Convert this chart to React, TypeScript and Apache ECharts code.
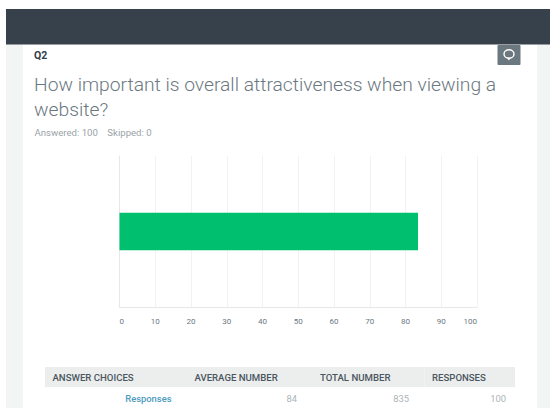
import React, { useEffect, useRef } from "react";
import * as echarts from "echarts";

const categories = ["Responses"];
const averageValues = [83.5];
const axisTicks = [0, 100];
const questionId = "Q2";
const questionLines = ["How important is overall attractiveness when viewing a", "website?"];
const answeredText = "Answered: 100    Skipped: 0";
const tableHeaders = ["ANSWER CHOICES", "AVERAGE NUMBER", "TOTAL NUMBER", "RESPONSES"];
const tableRow = ["Responses", "84", "835", "100"];

const UI_FONT = "Roboto, 'Open Sans', sans-serif";

export default function App() {
  const ref = useRef<HTMLDivElement>(null);
  useEffect(() => {
    const chart = echarts.init(ref.current!, undefined, { renderer: "svg" });
    const headerX = [52.5, 194.5, 320, 432];
    const cellRight = [171.5, 297, 409, 506];
    const cellX = [45, 187, 312, 424.5, 515];
    chart.setOption({
      animation: false,
      backgroundColor: "#ffffff",
      grid: { left: 119.5, right: 73, top: 156, bottom: 101, containLabel: false },
      xAxis: {
        type: "value",
        min: axisTicks[0],
        max: axisTicks[1],
        interval: 10,
        axisLine: { show: true, lineStyle: { color: "#e6e8e8", width: 1 } },
        axisTick: { show: false },
        splitLine: { show: true, lineStyle: { color: "#f1f2f2", width: 1 } },
        axisLabel: {
          color: "#6b787f",
          fontSize: 8,
          fontFamily: UI_FONT,
          margin: 10,
          alignMinLabel: "left",
          alignMaxLabel: "right",
        },
      },
      yAxis: {
        type: "category",
        data: categories,
        axisLine: { show: true, lineStyle: { color: "#e6e8e8", width: 1 } },
        axisTick: { show: false },
        axisLabel: { show: false },
      },
      series: [
        {
          type: "bar",
          data: averageValues,
          barWidth: 37.5,
          itemStyle: { color: "#00bf6f" },
          z: 3,
        },
      ],
      graphic: [
        // page frame behind the plot
        { type: "rect", z: -10, silent: true, shape: { x: 6, y: 44, width: 17, height: 364 }, style: { fill: "#f3f5f5" } },
        { type: "rect", z: -10, silent: true, shape: { x: 537, y: 44, width: 13, height: 364 }, style: { fill: "#f3f5f5" } },
        { type: "rect", z: 10, silent: true, shape: { x: 6, y: 9, width: 544, height: 35.5 }, style: { fill: "#36414b" } },
        // comment button
        { type: "rect", z: 10, silent: true, shape: { x: 497.5, y: 45, width: 23, height: 20, r: 1 }, style: { fill: "#6b787f" } },
        { type: "ellipse", z: 11, silent: true, shape: { cx: 509, cy: 54, rx: 5, ry: 4.2 }, style: { fill: "none", stroke: "#ffffff", lineWidth: 1.4 } },
        { type: "polygon", z: 11, silent: true, shape: { points: [[507, 57.8], [511, 57.8], [508.8, 60.5]] }, style: { fill: "#ffffff" } },
        // question heading
        { type: "text", z: 10, silent: true, x: 34, y: 55, style: { text: questionId, fill: "#333e48", font: `bold 10.5px ${UI_FONT}`, textVerticalAlign: "middle" } },
        ...questionLines.map((line, i) => ({
          type: "text", z: 10, silent: true, x: 34, y: 84 + i * 25.5,
          style: { text: line, fill: "#6b787f", font: `300 19.25px ${UI_FONT}`, textVerticalAlign: "middle" },
        })),
        { type: "text", z: 10, silent: true, x: 34.5, y: 132, style: { text: answeredText, fill: "#9aa3a8", font: `9.6px ${UI_FONT}`, textVerticalAlign: "middle" } },
        // results table
        ...tableHeaders.map((_, i) => ({
          type: "rect", z: 8, silent: true,
          shape: { x: cellX[i], y: 367, width: cellX[i + 1] - cellX[i], height: 20 },
          style: { fill: "#eceeee" },
        })),
        ...tableHeaders.map((h, i) => ({
          type: "text", z: 10, silent: true, x: headerX[i], y: 377,
          style: { text: h, fill: "#4a5660", font: `500 9.6px ${UI_FONT}`, textVerticalAlign: "middle" },
        })),
        ...tableRow.map((t, i) => ({
          type: "text", z: 10, silent: true, x: cellRight[i], y: 398,
          style: {
            text: t,
            fill: i === 0 ? "#4d9bbd" : "#adb4b8",
            font: `${i === 0 ? 500 : 400} 9.4px ${UI_FONT}`,
            textAlign: "right",
            textVerticalAlign: "middle",
          },
        })),
      ],
    });
    return () => chart.dispose();
  }, []);
  return <div ref={ref} style={{ position: "fixed", left: 0, top: 0, width: 550, height: 408 }} />;
}
